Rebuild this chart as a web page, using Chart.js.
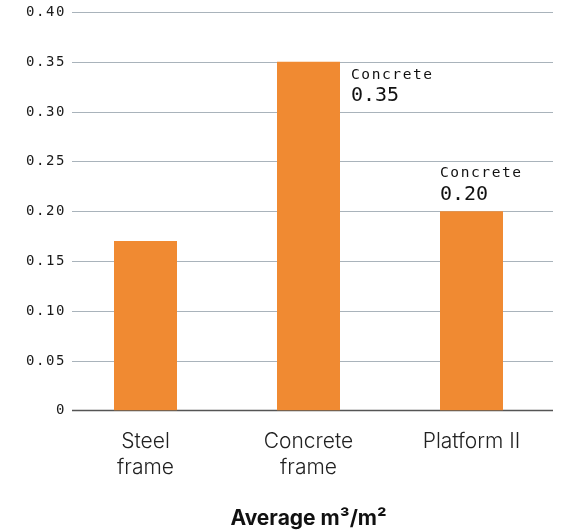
<!DOCTYPE html>
<html>
<head>
<meta charset="utf-8">
<script src="https://cdn.jsdelivr.net/npm/chart.js@4"></script>
<style>
	html, body { margin: 0; padding: 0; background: #fff; }
	#wrap { width: 564px; height: 531px; }
</style>
</head>
<body>
<div id="wrap"><canvas id="chart" width="564" height="531"></canvas></div>
<script>
var categories = [["Steel", "frame"], ["Concrete", "frame"], "Platform II"];
var values = [0.17, 0.35, 0.20];
var yTicks = [0, 0.05, 0.10, 0.15, 0.20, 0.25, 0.30, 0.35, 0.40];
var noteTitles = [null, "Concrete", "Concrete"];
var noteValues = [null, "0.35", "0.20"];
var axisTitle = "Average m³/m²";

var mono = "'DejaVu Sans Mono', monospace";
var sans = "Inter, 'Noto Sans', sans-serif";

function fmtTick(v) { return v === 0 ? '0' : v.toFixed(2); }

// y grid + tick labels drawn by hand (letter spaced mono labels)
var gridPlugin = {
	id: 'grid',
	beforeDatasetsDraw: function(chart) {
		var ctx = chart.ctx;
		var a = chart.chartArea;
		var y = chart.scales.y;
		ctx.save();
		for (var i = 0; i < yTicks.length; i++) {
			var py = Math.round(y.getPixelForValue(yTicks[i])) + 0.5;
			ctx.beginPath();
			ctx.moveTo(a.left + 8, py);
			ctx.lineTo(a.right, py);
			ctx.strokeStyle = yTicks[i] === 0 ? '#555' : '#a9b3bb';
			ctx.lineWidth = yTicks[i] === 0 ? 1.5 : 1;
			ctx.stroke();
			ctx.font = '14px ' + mono;
			ctx.letterSpacing = '1.6px';
			ctx.fillStyle = '#1a1a1a';
			ctx.textAlign = 'right';
			ctx.textBaseline = 'middle';
			ctx.fillText(fmtTick(yTicks[i]), a.left + 2, py);
		}
		ctx.restore();
	},
	afterDatasetsDraw: function(chart) {
		var ctx = chart.ctx;
		var bars = chart.getDatasetMeta(0).data;
		ctx.save();
		ctx.fillStyle = '#111';
		ctx.textBaseline = 'alphabetic';
		ctx.textAlign = 'left';
		for (var i = 0; i < bars.length; i++) {
			if (!noteTitles[i]) continue;
			var b = bars[i];
			var x, y;
			if (i === 1) {
				x = b.x + b.width / 2 + 11;
				y = b.y + 16.7;
			} else {
				x = b.x - b.width / 2;
				y = b.y - 34;
			}
			ctx.font = '14.5px ' + mono;
			ctx.letterSpacing = '1.6px';
			ctx.fillText(noteTitles[i], x, y);
			ctx.font = '20px ' + mono;
			ctx.letterSpacing = '0px';
			ctx.fillText(noteValues[i], x, y + 22.6);
		}
		ctx.restore();
	}
};

var ctx = document.getElementById('chart');
var barGraph = new Chart(ctx, {
	type: 'bar',
	data: {
		labels: categories,
		datasets: [{
			data: values,
			backgroundColor: '#f08a32',
			borderWidth: 0,
			barPercentage: 0.773,
			categoryPercentage: 0.5
		}]
	},
	options: {
		responsive: false,
		animation: false,
		layout: { padding: { top: 12, right: 11, left: 0, bottom: 0 } },
		plugins: {
			legend: { display: false },
			tooltip: { enabled: false }
		},
		scales: {
			x: {
				grid: { display: false, drawTicks: false },
				border: { display: false },
				ticks: {
					color: '#222',
					font: { family: sans, size: 21, weight: 300, lineHeight: 1.2 },
					padding: 19
				},
				title: {
					display: true,
					text: axisTitle,
					color: '#111',
					font: { family: sans, size: 21, weight: 'bold', lineHeight: 1.2 },
					padding: { top: 7, bottom: 0 }
				}
			},
			y: {
				min: 0,
				max: 0.40,
				grid: { display: false, drawTicks: false },
				border: { display: false },
				ticks: { display: false },
				afterFit: function(axis) { axis.width = 64; }
			}
		}
	},
	plugins: [gridPlugin]
});
</script>
</body>
</html>
